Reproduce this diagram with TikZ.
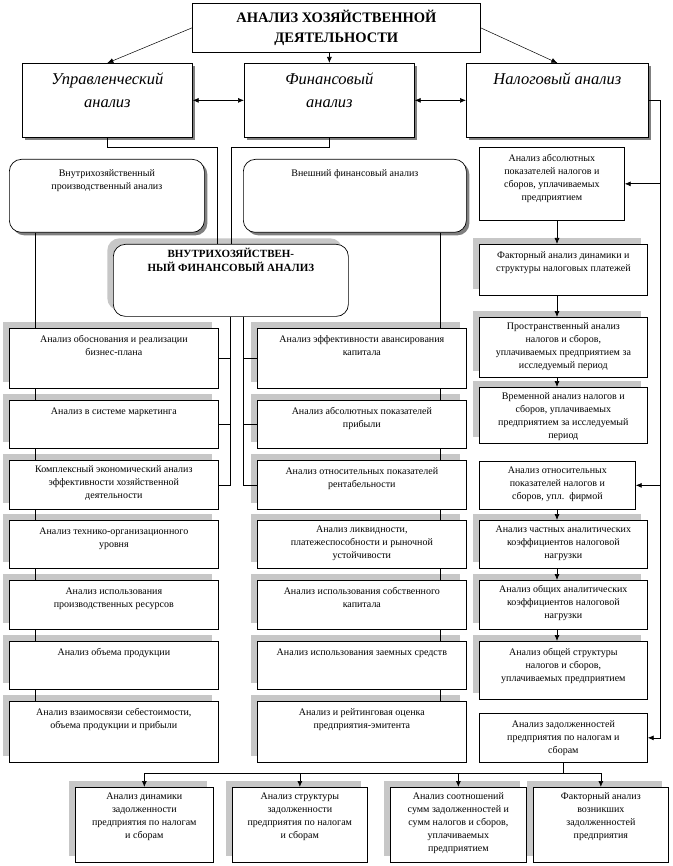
\documentclass[tikz,border=0pt]{standalone}
\usepackage{fontspec}
\setmainfont{Liberation Serif}
\usetikzlibrary{arrows.meta,shadows}

\newcommand{\boxtxt}[4][5]{\parbox[t][#3pt][t]{#2pt}{\centering\vspace*{#1pt}\strut#4}}

\begin{document}
\begin{tikzpicture}[x=1pt, y=-1pt, line width=0.7pt,
  box/.style={draw, fill=white, inner sep=0pt, anchor=north west, font=\fontsize{10}{13}\selectfont},
  shd/.style={drop shadow={shadow xshift=-6pt, shadow yshift=6pt, fill=black!22, opacity=1}},
  dark/.style={drop shadow={shadow xshift=3pt, shadow yshift=-3pt, fill=black!50, opacity=1}},
  headbox/.style={box, dark, font=\itshape\fontsize{16.5}{23}\selectfont},
  roundbox/.style={box, rounded corners=12pt},
  arr/.style={-{Latex[length=6pt,width=5pt]}},
  darr/.style={{Latex[length=6pt,width=5pt]}-{Latex[length=6pt,width=5pt]}}]
\path[use as bounding box, fill=white] (0,0) rectangle (672,866);

% top level
\node[draw, fill=white, anchor=north west, minimum width=288, minimum height=49, align=center,
  font=\bfseries\fontsize{14.5}{20}\selectfont] (title) at (192,3) {АНАЛИЗ ХОЗЯЙСТВЕННОЙ\\ДЕЯТЕЛЬНОСТИ};
\node[headbox] (upr) at (22,63) {\boxtxt{170}{74}{Управленческий\\анализ}};
\node[headbox] (fin) at (244,63) {\boxtxt{170}{74}{Финансовый\\анализ}};
\node[headbox] (nal) at (466,63) {\boxtxt{182}{74}{Налоговый анализ}};

% rounded boxes
\node[roundbox, dark] (vnpr) at (9,159) {\boxtxt[8]{195}{73}{Внутрихозяйственный\\производственный анализ}};
\node[roundbox, dark] (vnesh) at (243,159) {\boxtxt[8]{223}{73}{Внешний финансовый анализ}};
\node[roundbox, shd, font=\bfseries\fontsize{11}{14}\selectfont] (vfin) at (113,244) {\boxtxt[3]{235}{72}{ВНУТРИХОЗЯЙСТВЕН-\\НЫЙ ФИНАНСОВЫЙ АНАЛИЗ}};

% left column
\node[box, shd] (l1) at (9,328) {\boxtxt{209}{60}{Анализ обоснования и реализации\\бизнес-плана}};
\node[box, shd] (l2) at (9,400) {\boxtxt{209}{48}{Анализ в системе маркетинга}};
\node[box, shd] (l3) at (9,460) {\boxtxt[3]{209}{49}{Комплексный экономический анализ\\эффективности хозяйственной\\деятельности}};
\node[box, shd] (l4) at (9,520) {\boxtxt{209}{48}{Анализ технико-организационного\\уровня}};
\node[box, shd] (l5) at (9,580) {\boxtxt{209}{49}{Анализ использования\\производственных ресурсов}};
\node[box, shd] (l6) at (9,641) {\boxtxt{209}{48}{Анализ объема продукции}};
\node[box, shd] (l7) at (9,701) {\boxtxt{209}{61}{Анализ взаимосвязи себестоимости,\\объема продукции и прибыли}};

% middle column
\node[box, shd] (r1) at (257,328) {\boxtxt{209}{60}{Анализ эффективности авансирования\\капитала}};
\node[box, shd] (r2) at (257,400) {\boxtxt{209}{48}{Анализ абсолютных показателей\\прибыли}};
\node[box, shd] (r3) at (257,460) {\boxtxt{209}{49}{Анализ относительных показателей\\рентабельности}};
\node[box, shd] (r4) at (257,520) {\boxtxt[3]{209}{48}{Анализ ликвидности,\\платежеспособности и рыночной\\устойчивости}};
\node[box, shd] (r5) at (257,580) {\boxtxt{209}{49}{Анализ использования собственного\\капитала}};
\node[box, shd] (r6) at (257,641) {\boxtxt{209}{48}{Анализ использования заемных средств}};
\node[box, shd] (r7) at (257,701) {\boxtxt{209}{61}{Анализ и рейтинговая оценка\\предприятия-эмитента}};

% tax column
\node[box] (t1) at (479,147) {\boxtxt{145}{73}{Анализ абсолютных\\показателей налогов и\\сборов, уплачиваемых\\предприятием}};
\node[box, shd] (t2) at (479,244) {\boxtxt{168}{51}{Факторный анализ динамики и\\структуры налоговых платежей}};
\node[box, shd] (t3) at (479,317) {\boxtxt[3]{168}{60}{Пространственный анализ\\налогов и сборов,\\уплачиваемых предприятием за\\исследуемый период}};
\node[box, shd] (t4) at (479,387) {\boxtxt[3]{168}{56}{Временной анализ налогов и\\сборов, уплачиваемых\\предприятием за исследуемый\\период}};
\node[box] (t5) at (479,461) {\boxtxt[3]{156}{48}{Анализ относительных\\показателей налогов и\\сборов, упл.~~фирмой}};
\node[box, shd] (t6) at (479,520) {\boxtxt[3]{168}{48}{Анализ частных аналитических\\коэффициентов налоговой\\нагрузки}};
\node[box, shd] (t7) at (479,580) {\boxtxt[3]{168}{49}{Анализ общих аналитических\\коэффициентов налоговой\\нагрузки}};
\node[box, shd] (t8) at (479,641) {\boxtxt{168}{58}{Анализ общей структуры\\налогов и сборов,\\уплачиваемых предприятием}};
\node[box] (t9) at (479,713) {\boxtxt{168}{49}{Анализ задолженностей\\предприятия по налогам и\\сборам}};

% bottom row
\node[box, shd] (b1) at (75,787) {\boxtxt[3]{138}{75}{Анализ динамики\\задолженности\\предприятия по налогам\\и сборам}};
\node[box, shd] (b2) at (232,787) {\boxtxt[3]{135}{75}{Анализ структуры\\задолженности\\предприятия по налогам\\и сборам}};
\node[box, shd] (b3) at (390,787) {\boxtxt[3]{136}{75}{Анализ соотношений\\сумм задолженностей и\\сумм налогов и сборов,\\уплачиваемых\\предприятием}};
\node[box, shd] (b4) at (533,787) {\boxtxt[3]{135}{75}{Факторный анализ\\возникших\\задолженностей\\предприятия}};

% helper coordinates
\coordinate (jl) at (217,147);
\coordinate (jr) at (231,147);
\coordinate (ml) at (230,0);
\coordinate (mr) at (243,0);
\coordinate (cl) at (35,0);
\coordinate (cr) at (440,0);
\coordinate (tr) at (660,0);
\coordinate (tx) at (557,0);
\coordinate (hb) at (0,773);

% arrows from the title
\draw[arr, line width=0.5pt] (title.west) -- (upr.north);
\draw[arr] (title.south -| fin.north) -- (fin.north);
\draw[arr, line width=0.5pt] (title.east) -- (nal.north);
\draw[darr] (upr.east) -- (fin.west);
\draw[darr] (fin.east) -- (nal.west);

% links down to the middle box
\draw (upr.south) |- (jl) -- (jl |- vfin.north);
\draw (fin.south) |- (jr) -- (jr |- vfin.north);
\draw (ml |- vfin.south) |- (l3.east);
\draw (mr |- vfin.south) |- (r3.west);
\foreach \n in {l1,l2} \draw (\n.east) -- (\n.east -| ml);
\foreach \n in {r1,r2} \draw (\n.west) -- (\n.west -| mr);

% left and middle columns
\draw (cl |- vnpr.south) -- (cl |- l1.north);
\draw (cr |- vnesh.south) -- (cr |- r1.north);
\foreach \a/\b in {l1/l2,l2/l3,l3/l4,l4/l5,l5/l6,l6/l7}
  \draw (cl |- \a.south) -- (cl |- \b.north);
\foreach \a/\b in {r1/r2,r2/r3,r3/r4,r4/r5,r5/r6,r6/r7}
  \draw (cr |- \a.south) -- (cr |- \b.north);

% tax column
\draw[arr] (nal.east) -| (tr |- t9.east) -- (t9.east);
\draw[arr] (tr |- t1.east) -- (t1.east);
\draw[arr] (tr |- t5.east) -- (t5.east);
\foreach \a/\b in {t1/t2,t2/t3,t3/t4,t5/t6,t6/t7,t7/t8}
  \draw[arr] (tx |- \a.south) -- (tx |- \b.north);

% bottom row
\draw (t9.south) -- (t9.south |- hb);
\draw (b1.north |- hb) -- (b4.north |- hb);
\foreach \n in {b1,b2,b3,b4}
  \draw[arr] (\n.north |- hb) -- (\n.north);
\end{tikzpicture}
\end{document}
